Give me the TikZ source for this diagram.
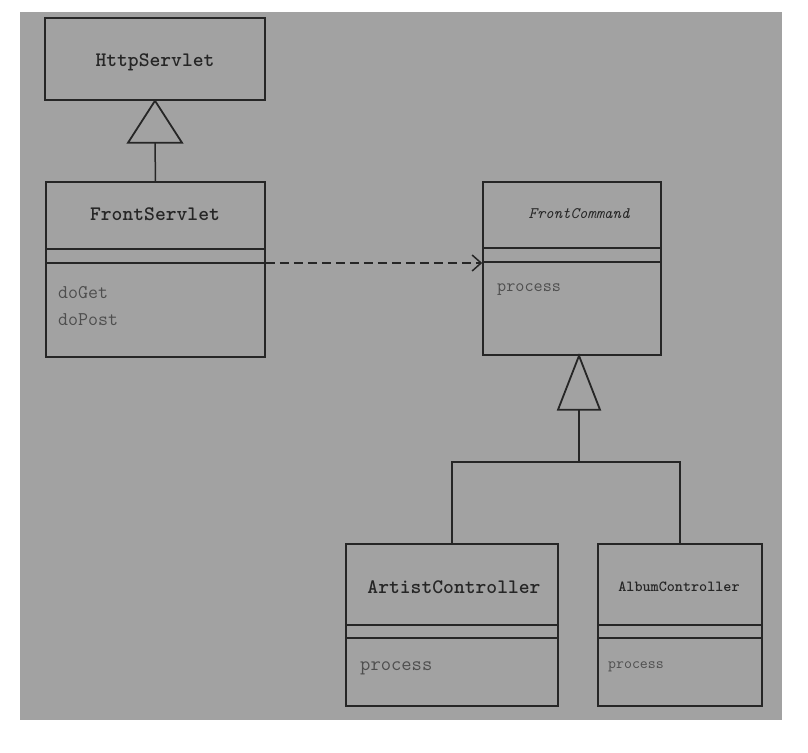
\documentclass[tikz,border=0pt]{standalone}
\usepackage{fontspec}
\usetikzlibrary{arrows.meta}
\definecolor{paper}{HTML}{A2A2A2}
\definecolor{ink}{HTML}{262626}
\definecolor{meth}{HTML}{4E4E4E}
\tikzset{
 classbox/.style={draw=ink, line width=1.5pt, fill=paper, inner sep=0pt},
 cname/.style={font=\ttfamily\fontsize{#1}{#1}\selectfont, text=ink, inner sep=0pt},
 mname/.style={font=\ttfamily\fontsize{#1}{#1}\selectfont, text=meth, anchor=west, inner sep=0pt},
 sepline/.style={draw=ink, line width=1.5pt},
 inherit/.style={draw=ink, line width=1.5pt},
 tri/.style={draw=ink, line width=1.8pt, fill=paper, line join=miter},
 dep/.style={draw=ink, line width=1.8pt, dash pattern=on 9pt off 5pt, -{Straight Barb[length=9pt,width=16pt,line width=1.5pt]}}
}
\begin{document}
\begin{tikzpicture}[x=1pt,y=-1pt]
\useasboundingbox (0,0) rectangle (808,752);
\fill[white] (0,0) rectangle (808,752);
\fill[paper] (20,12) rectangle (782,720);

% HttpServlet
\node[classbox, minimum width=220, minimum height=82] (http) at (155,59) {};
\node[cname=20.6] (httpname) at (155,62) {\textbf{HttpServlet}};

% FrontServlet
\node[classbox, minimum width=219, minimum height=175] (fs) at (155.5,269.5) {};
\node[cname=20.6] (fsname) at (155,214) {\textbf{FrontServlet}};
\draw[sepline] (fs.west |- 0,249) -- (fs.east |- 0,249);
\draw[sepline] (fs.west |- 0,263) -- (fs.east |- 0,263);
\node[mname=19.4] (doget) at (58,293) {doGet};
\node[mname=19.4] (dopost) at (58,320) {doPost};

% FrontCommand
\node[classbox, minimum width=178, minimum height=173] (fc) at (572,268.5) {};
\node[cname=16, font=\ttfamily\itshape\fontsize{16}{16}\selectfont] (fcname) at (579,214) {FrontCommand};
\draw[sepline] (fc.west |- 0,248) -- (fc.east |- 0,248);
\draw[sepline] (fc.west |- 0,262) -- (fc.east |- 0,262);
\node[mname=17.7] (fcproc) at (497,290) {process};

% ArtistController
\node[classbox, minimum width=212, minimum height=162] (ac) at (452,625) {};
\node[cname=20.6] (acname) at (454,587) {\textbf{ArtistController}};
\draw[sepline] (ac.west |- 0,625) -- (ac.east |- 0,625);
\draw[sepline] (ac.west |- 0,638) -- (ac.east |- 0,638);
\node[mname=20] (acproc) at (360,668) {process};

% AlbumController
\node[classbox, minimum width=164, minimum height=162] (alb) at (680,625) {};
\node[cname=15.4] (albname) at (679,587) {\textbf{AlbumController}};
\draw[sepline] (alb.west |- 0,625) -- (alb.east |- 0,625);
\draw[sepline] (alb.west |- 0,638) -- (alb.east |- 0,638);
\node[mname=15.4] (albproc) at (608,667) {process};

% generalization FrontServlet -> HttpServlet
\coordinate (t1b) at ([yshift=-42pt]http.south);
\draw[inherit] (t1b) -- (fs.north);
\draw[tri] (http.south) -- ([xshift=27pt]t1b) -- ([xshift=-27pt]t1b) -- cycle;

% generalization controllers -> FrontCommand
\coordinate (fcbot) at (fc.south -| 579,0);
\coordinate (t2b) at ([yshift=-54pt]fcbot);
\coordinate (j) at (579,462);
\draw[inherit] (t2b) -- (j);
\draw[inherit] (ac.north) |- (j) -| (alb.north);
\draw[tri] (fcbot) -- ([xshift=21pt]t2b) -- ([xshift=-21pt]t2b) -- cycle;

% dependency
\draw[dep] (fs.east |- 0,263) -- (fc.west |- 0,263);
\end{tikzpicture}
\end{document}
